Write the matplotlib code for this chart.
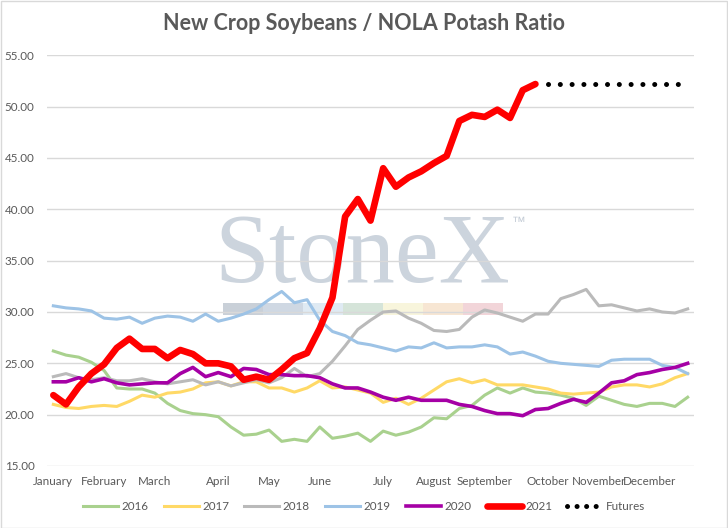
import matplotlib
matplotlib.use("Agg")
import matplotlib.pyplot as plt
from matplotlib.patches import Rectangle
from matplotlib.lines import Line2D

plt.rcParams['font.family'] = ['Lato', 'DejaVu Sans']

weeks = list(range(51))
month_pos = [0, 4, 8, 13, 17, 21, 26, 30, 34, 39, 43, 47]
month_labels = ["January", "February", "March", "April", "May", "June", "July",
                "August", "September", "October", "November", "December"]

y2016 = [26.2, 25.8, 25.6, 25.1, 24.3, 22.6, 22.5, 22.5, 22.1, 21.1, 20.4, 20.1, 20.0,
         19.8, 18.8, 18.0, 18.1, 18.5, 17.4, 17.6, 17.4, 18.8, 17.7, 17.9, 18.2, 17.4,
         18.4, 18.0, 18.3, 18.8, 19.7, 19.6, 20.6, 20.9, 21.9, 22.6, 22.1, 22.6, 22.2,
         22.1, 21.9, 21.6, 20.9, 21.8, 21.4, 21.0, 20.8, 21.1, 21.1, 20.8, 21.7]
y2017 = [21.0, 20.7, 20.6, 20.8, 20.9, 20.8, 21.3, 21.9, 21.7, 22.1, 22.2, 22.5, 23.1,
         23.2, 22.8, 23.2, 23.2, 22.6, 22.6, 22.2, 22.6, 23.3, 22.6, 22.7, 22.4, 22.1,
         21.2, 21.6, 21.0, 21.6, 22.4, 23.2, 23.5, 23.1, 23.4, 22.9, 22.9, 22.9, 22.7,
         22.5, 22.1, 22.0, 22.1, 22.2, 22.7, 22.9, 22.9, 22.7, 23.0, 23.6, 24.0]
y2018 = [23.7, 24.0, 23.6, 23.4, 23.6, 23.3, 23.3, 23.5, 23.2, 23.0, 23.2, 23.4, 22.9,
         23.2, 22.8, 23.1, 23.4, 23.1, 23.6, 24.5, 23.7, 24.0, 25.2, 26.7, 28.3, 29.2,
         30.0, 30.1, 29.4, 28.9, 28.2, 28.1, 28.3, 29.5, 30.2, 29.9, 29.5, 29.1, 29.8,
         29.8, 31.3, 31.7, 32.2, 30.6, 30.7, 30.4, 30.1, 30.3, 30.0, 29.9, 30.3]
y2019 = [30.6, 30.4, 30.3, 30.1, 29.4, 29.3, 29.5, 28.9, 29.4, 29.6, 29.5, 29.1, 29.8,
         29.1, 29.4, 29.8, 30.3, 31.2, 32.0, 30.9, 31.2, 29.2, 28.1, 27.7, 27.0, 26.8,
         26.5, 26.2, 26.6, 26.5, 27.0, 26.5, 26.6, 26.6, 26.8, 26.6, 25.9, 26.1, 25.7,
         25.2, 25.0, 24.9, 24.8, 24.7, 25.3, 25.4, 25.4, 25.4, 24.8, 24.6, 24.0]
y2020 = [23.2, 23.2, 23.6, 23.2, 23.5, 23.1, 22.9, 23.0, 23.1, 23.1, 24.0, 24.6, 23.7,
         24.1, 23.7, 24.5, 24.4, 23.9, 23.9, 23.8, 23.8, 23.6, 23.0, 22.6, 22.6, 22.2,
         21.7, 21.4, 21.7, 21.4, 21.4, 21.4, 21.0, 20.8, 20.4, 20.1, 20.1, 19.9, 20.5,
         20.6, 21.1, 21.5, 21.2, 22.1, 23.1, 23.3, 23.9, 24.1, 24.4, 24.6, 25.0]
y2021 = [21.9, 21.0, 22.7, 24.0, 24.9, 26.5, 27.4, 26.4, 26.4, 25.5, 26.3, 25.9, 25.0,
         25.0, 24.7, 23.4, 23.7, 23.4, 24.4, 25.5, 26.0, 28.4, 31.4, 39.3, 41.0, 38.9,
         44.0, 42.2, 43.1, 43.7, 44.5, 45.2, 48.6, 49.2, 49.0, 49.7, 48.9, 51.6, 52.2]
futures_weeks = list(range(39, 51))
futures = [52.2] * 12

fig = plt.figure(figsize=(7.28, 5.28), dpi=100)
fig.patches.append(Rectangle((0.5/728, 0.5/528), 726.5/728, 526.5/528, transform=fig.transFigure,
                             fill=False, edgecolor='#d9d9d9', linewidth=1.0))
ax = fig.add_axes([47/728, 62/528, 647/728, 410.7/528])

# watermark
def px2ax(x, y):
    return ((x - 47) / 647, (466 - y) / 410.7)

bar_colors = ['#c9d0d8', '#cfd8e3', '#dfeaf3', '#d5e4d9', '#f8f5dc', '#f7e6d3', '#f2d5d9']
for k, c in enumerate(bar_colors):
    x0, y0 = px2ax(222.7 + 40 * k, 315)
    ax.add_patch(Rectangle((x0, y0), 40.2 / 647, 12.3 / 410.7, transform=ax.transAxes,
                           facecolor=c, edgecolor='none', zorder=0.2))
tx, ty = px2ax(362, 282)
ax.text(tx, ty, "StoneX", transform=ax.transAxes, ha='center', va='baseline',
        fontsize=71, family='Liberation Serif', color='#ccd4dd', zorder=0.3)
tx2, ty2 = px2ax(512, 222)
ax.text(tx2, ty2, "™", transform=ax.transAxes, ha='left', va='center',
        fontsize=10, family='Liberation Sans', color='#c4ccd6', zorder=0.3)

lw = 2.2
ax.plot(weeks, y2016, color='#a9d18e', lw=lw, label='2016', zorder=3, solid_joinstyle='round')
ax.plot(weeks, y2017, color='#ffd966', lw=lw, label='2017', zorder=3, solid_joinstyle='round')
ax.plot(weeks, y2018, color='#bababa', lw=lw, label='2018', zorder=3, solid_joinstyle='round')
ax.plot(weeks, y2019, color='#9dc3e6', lw=lw, label='2019', zorder=3, solid_joinstyle='round')
ax.plot(weeks, y2020, color='#a500a5', lw=2.6, label='2020', zorder=4, solid_joinstyle='round')
ax.plot(range(len(y2021)), y2021, color='#ff0000', lw=4.8, label='2021', zorder=5,
        solid_joinstyle='round', solid_capstyle='round')
ax.plot(futures_weeks, futures, color='black', lw=3.6, linestyle=(0, (0.01, 2.35)),
        dash_capstyle='round', label='Futures', zorder=5)

ax.set_xlim(-0.5, 50.5)
ax.set_ylim(15, 55)
ax.set_yticks([15, 20, 25, 30, 35, 40, 45, 50, 55])
ax.set_yticklabels([f"{v:.2f}" for v in [15, 20, 25, 30, 35, 40, 45, 50, 55]])
ax.set_xticks(month_pos)
ax.set_xticklabels(month_labels)
ax.tick_params(axis='both', length=0, labelsize=8.4, colors='#595959')
ax.tick_params(axis='x', pad=7)
ax.tick_params(axis='y', pad=9)
for s in ax.spines.values():
    s.set_visible(False)
ax.yaxis.grid(True, color='#d9d9d9', linewidth=1.0)
ax.set_axisbelow(True)

fig.text(0.5, 1 - 24/528, "New Crop Soybeans / NOLA Potash Ratio", ha='center', va='center',
         fontsize=15.5, fontweight='bold', color='#595959')

handles = [
    Line2D([], [], color='#a9d18e', lw=lw),
    Line2D([], [], color='#ffd966', lw=lw),
    Line2D([], [], color='#bababa', lw=lw),
    Line2D([], [], color='#9dc3e6', lw=lw),
    Line2D([], [], color='#a500a5', lw=2.6),
    Line2D([], [], color='#ff0000', lw=4.8, solid_capstyle='round'),
    Line2D([], [], color='black', lw=3.6, linestyle=(0, (0.01, 1.9)), dash_capstyle='round'),
]
labels = ['2016', '2017', '2018', '2019', '2020', '2021', 'Futures']
leg = fig.legend(handles, labels, loc='center', bbox_to_anchor=(0.5, 21/528), ncol=7,
                 frameon=False, fontsize=8.4, handlelength=3.0, handletextpad=0.3,
                 columnspacing=1.3)
for t in leg.get_texts():
    t.set_color('#595959')

fig.savefig("out.png", dpi=100)
